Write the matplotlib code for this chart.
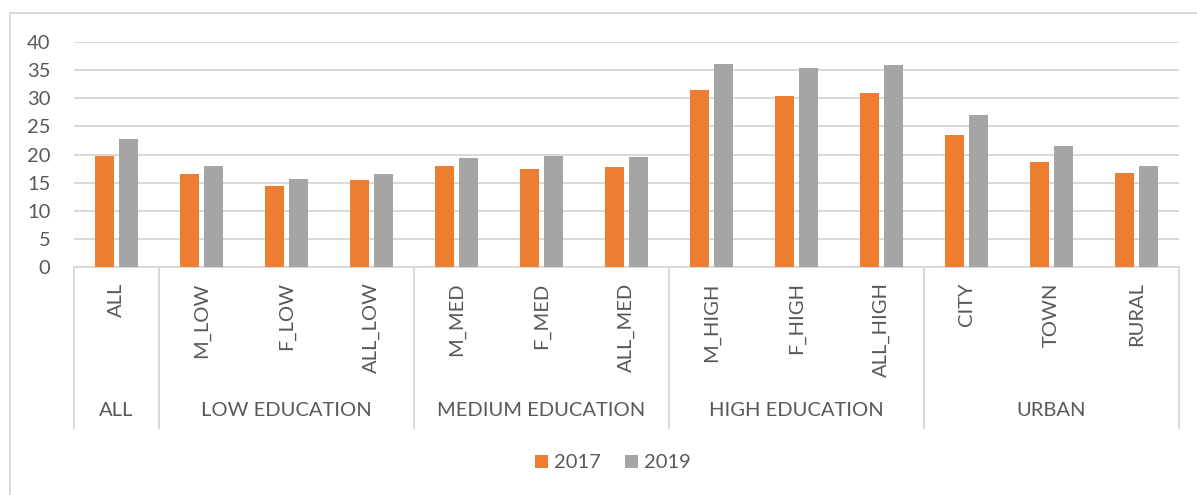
import matplotlib as mpl
import matplotlib.pyplot as plt
import matplotlib.transforms as mtransforms
from matplotlib.lines import Line2D
import numpy as np

mpl.rcParams.update(
    {
        "font.family": ["Lato", "DejaVu Sans"],
        "font.size": 14.5,
        "text.color": "#595959",
        "xtick.color": "#595959",
        "ytick.color": "#595959",
    }
)

categories = ["ALL", "M_LOW", "F_LOW", "ALL_LOW", "M_MED", "F_MED", "ALL_MED",
              "M_HIGH", "F_HIGH", "ALL_HIGH", "CITY", "TOWN", "RURAL"]
groups = ["ALL", "LOW EDUCATION", "MEDIUM EDUCATION", "HIGH EDUCATION", "URBAN"]
group_sizes = [1, 3, 3, 3, 3]
series_names = ["2017", "2019"]
values_2017 = [19.8, 16.5, 14.4, 15.4, 18.0, 17.4, 17.8, 31.5, 30.4, 30.9, 23.5, 18.6, 16.8]
values_2019 = [22.7, 17.9, 15.7, 16.6, 19.4, 19.8, 19.6, 36.1, 35.4, 36.0, 27.1, 21.5, 17.9]

COL = {"orange": "#ED7D31", "gray": "#A5A5A5", "grid": "#D9D9D9", "text": "#595959"}

W, H = 1197, 495
fig = plt.figure(figsize=(W / 100, H / 100), dpi=100, facecolor="white")
ax = fig.add_axes([74 / W, (H - 267) / H, (1179 - 74) / W, 225 / H])

x = np.arange(len(categories))
bw = 0.224
off = 0.141
ax.bar(x - off, values_2017, bw, color=COL["orange"], label=series_names[0], zorder=3)
ax.bar(x + off, values_2019, bw, color=COL["gray"], label=series_names[1], zorder=3)

ax.set_xlim(-0.5, len(categories) - 0.5)
ax.set_ylim(0, 40)
ax.set_yticks(range(0, 41, 5))
ax.yaxis.grid(True, color=COL["grid"], lw=1.4, zorder=0)
ax.set_axisbelow(True)
for s in ["top", "right", "left"]:
    ax.spines[s].set_visible(False)
ax.spines["bottom"].set_color(COL["grid"])
ax.spines["bottom"].set_linewidth(1.4)
ax.tick_params(axis="y", length=0, pad=17)
ax.set_xticks(x)
ax.set_xticklabels(categories, rotation=90)
ax.tick_params(axis="x", length=0, pad=11)

# multi-level category axis
trans = mtransforms.blended_transform_factory(ax.transData, ax.transAxes)
edges = np.concatenate([[0], np.cumsum(group_sizes)]) - 0.5
for e in edges:
    ax.add_line(Line2D([e, e], [0, -0.716], transform=trans, color=COL["grid"], lw=1.4, clip_on=False))
for g, a, b in zip(groups, edges[:-1], edges[1:]):
    ax.text((a + b) / 2, -0.64, g, transform=trans, ha="center", va="center", color=COL["text"])

# chart frame (left and top edges visible)
fig.add_artist(Line2D([10 / W, 10 / W], [0, (H - 13) / H], color=COL["grid"], lw=1.4))
fig.add_artist(Line2D([10 / W, 1], [(H - 13) / H, (H - 13) / H], color=COL["grid"], lw=1.4))

fig.legend(loc="center", bbox_to_anchor=(613 / W, (H - 463) / H), ncol=2, frameon=False,
           handlelength=0.65, handleheight=0.65, handletextpad=0.3, columnspacing=1.2)

fig.savefig("out.png", dpi=100, facecolor="white")
